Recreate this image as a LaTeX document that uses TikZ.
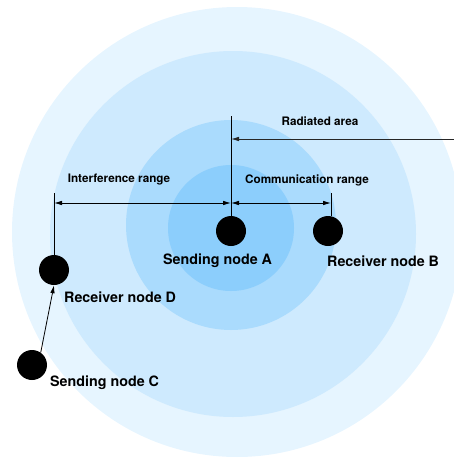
\documentclass[tikz,border=0pt]{standalone}
\usepackage{fontspec}
\setmainfont{TeX Gyre Heros}
\usetikzlibrary{arrows.meta}
\definecolor{ringout}{RGB}{230,245,255}
\definecolor{ringmid}{RGB}{206,234,254}
\definecolor{ringin}{RGB}{170,219,253}
\definecolor{ringcore}{RGB}{140,206,252}
\begin{document}
\begin{tikzpicture}[x=1pt,y=-1pt,
  dot/.style={circle,fill=black,minimum size=30pt,inner sep=0pt},
  lab/.style={inner sep=0pt,font=\bfseries\fontsize{11.7}{14}\selectfont},
  big/.style={inner sep=0pt,anchor=west,font=\bfseries\fontsize{14.3}{17}\selectfont},
  dim/.style={line width=0.8pt,{Latex[length=8pt,width=4.5pt]}-{Latex[length=8pt,width=4.5pt]}},
  lead/.style={line width=0.8pt,-{Latex[length=8pt,width=4.5pt]}},
  tick/.style={line width=0.8pt}]
\useasboundingbox (0,0) rectangle (454,458);
\clip (0,0) rectangle (454,458);
% concentric range areas
\fill[ringout] (237,232) circle[radius=225];
\fill[ringmid] (233,234) circle[radius=183];
\fill[ringin] (231,225) circle[radius=105];
\fill[ringcore] (231,228) circle[radius=63];
% nodes
\node[dot] (A) at (231,231) {};
\node[dot] (B) at (328,231) {};
\node[dot] (D) at (54,270) {};
\node[dot] (C) at (32,365) {};
% helper points for the dimension lines
\coordinate (topA) at (231,116);
\coordinate (intL) at (54,203);
\coordinate (intR) at (231,203);
\coordinate (comR) at (331,203);
\coordinate (tickD) at (54,193);
\coordinate (tickB) at (331,193);
\coordinate (radR) at (454,139);
\coordinate (radL) at (231,139);
% ticks and dimension arrows
\draw[tick] (A.north) -- (topA);
\draw[tick] (D.north) -- (tickD);
\draw[tick] (tickB) -- (tickB |- B.north);
\draw[dim] (intL) -- (intR);
\draw[dim] (intR) -- (comR);
\draw[lead,draw=black!85] (radR) -- (radL);
\draw[lead] (C.55) -- (D.south);
% labels
\node[lab] (tRad) at (320,121) {Radiated area};
\node[lab] (tInt) at (119,180) {Interference range};
\node[lab] (tCom) at (307,180) {Communication range};
\node[big] (tA) at (163,261) {Sending node A};
\node[big] (tB) at (327,261) {Receiver node B};
\node[big] (tD) at (64,297) {Receiver node D};
\node[big] (tC) at (50,383) {Sending node C};
\end{tikzpicture}
\end{document}
